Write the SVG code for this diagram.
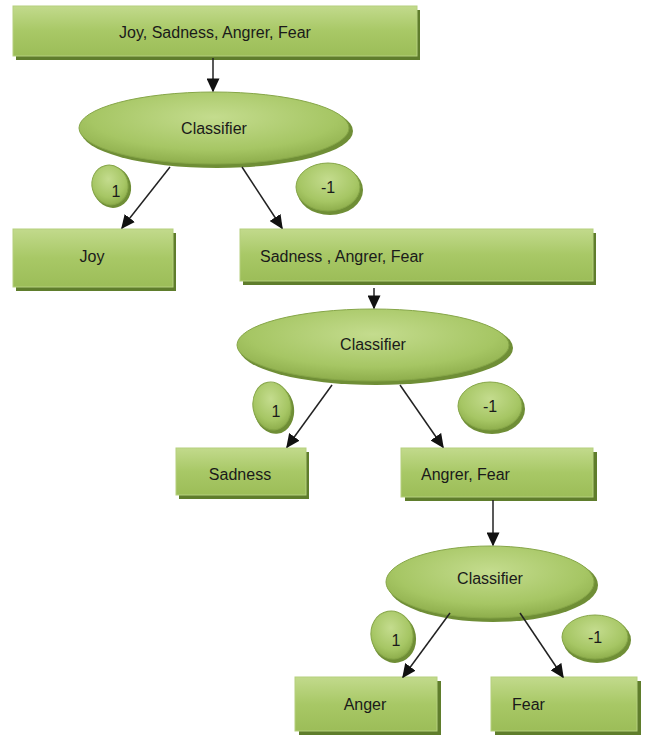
<svg xmlns="http://www.w3.org/2000/svg" width="645" height="736" viewBox="0 0 645 736">
<defs>
<linearGradient id="gBox" x1="0" y1="0" x2="0" y2="1">
<stop offset="0" stop-color="#c2da8c"/>
<stop offset="0.5" stop-color="#a8c866"/>
<stop offset="1" stop-color="#9cbd58"/>
</linearGradient>
<radialGradient id="gEl" cx="0.5" cy="0.35" r="0.65">
<stop offset="0" stop-color="#c4dc8e"/>
<stop offset="0.7" stop-color="#a6c664"/>
<stop offset="1" stop-color="#8eae4c"/>
</radialGradient>
<marker id="ah" viewBox="0 0 10 10" refX="9" refY="5" markerWidth="14" markerHeight="13" orient="auto" markerUnits="userSpaceOnUse" preserveAspectRatio="none">
<path d="M0,0 L10,5 L0,10 z" fill="#111"/>
</marker>
</defs>
<style>
.box{fill:url(#gBox);stroke:#b5d07e;stroke-width:1}
.sh{fill:#5f7d2c}
.el{fill:url(#gEl);stroke:#86a648;stroke-width:1}
.els{fill:#6f8e36}
.t{font-family:"Liberation Sans",Arial,sans-serif;font-size:16px;fill:#1a1a1a}
.c{text-anchor:middle}
.conn line{stroke:#222;stroke-width:1.5;marker-end:url(#ah)}
</style>
<rect width="645" height="736" fill="#ffffff"/>

<g id="n_root">
<rect class="sh" x="16" y="10" width="404" height="50"/>
<rect class="box" x="13" y="6" width="404" height="50"/>
<text class="t c" x="215" y="38">Joy, Sadness, Angrer, Fear</text>
</g>

<g id="n_cls1">
<ellipse class="els" cx="217" cy="131" rx="136" ry="37"/>
<ellipse class="el" cx="214" cy="128" rx="135" ry="36"/>
<text class="t c" x="214" y="134">Classifier</text>
</g>
<g id="n_l1a">
<ellipse class="els" cx="112" cy="187" rx="19" ry="21" transform="rotate(-15 112 187)"/>
<ellipse class="el" cx="110" cy="185" rx="18" ry="20" transform="rotate(-15 110 185)"/>
<text class="t c" x="116" y="197">1</text>
</g>
<g id="n_l1b">
<ellipse class="els" cx="330" cy="190" rx="33" ry="25"/>
<ellipse class="el" cx="328" cy="187" rx="32" ry="24"/>
<text class="t c" x="328" y="193">-1</text>
</g>

<g id="n_joy">
<rect class="sh" x="16" y="233" width="160" height="58"/>
<rect class="box" x="13" y="229" width="160" height="58"/>
<text class="t c" x="92" y="262">Joy</text>
</g>

<g id="n_sad3">
<rect class="sh" x="243" y="233" width="353" height="52"/>
<rect class="box" x="240" y="229" width="353" height="52"/>
<text class="t" x="260" y="262">Sadness , Angrer, Fear</text>
</g>

<g id="n_cls2">
<ellipse class="els" cx="376" cy="348" rx="137" ry="37"/>
<ellipse class="el" cx="373" cy="345" rx="136" ry="36"/>
<text class="t c" x="373" y="350">Classifier</text>
</g>
<g id="n_l2a">
<ellipse class="els" cx="274" cy="409" rx="20" ry="25" transform="rotate(-10 274 409)"/>
<ellipse class="el" cx="272" cy="406" rx="19" ry="24" transform="rotate(-10 272 406)"/>
<text class="t c" x="276" y="417">1</text>
</g>
<g id="n_l2b">
<ellipse class="els" cx="492" cy="409" rx="33" ry="25"/>
<ellipse class="el" cx="490" cy="406" rx="32" ry="24"/>
<text class="t c" x="490" y="412">-1</text>
</g>

<g id="n_sad">
<rect class="sh" x="179" y="452" width="130" height="47"/>
<rect class="box" x="176" y="448" width="130" height="47"/>
<text class="t c" x="240" y="480">Sadness</text>
</g>

<g id="n_af">
<rect class="sh" x="405" y="452" width="192" height="49"/>
<rect class="box" x="401" y="448" width="192" height="49"/>
<text class="t" x="421" y="480">Angrer, Fear</text>
</g>

<g id="n_cls3">
<ellipse class="els" cx="493" cy="585" rx="105" ry="37"/>
<ellipse class="el" cx="490" cy="582" rx="104" ry="36"/>
<text class="t c" x="490" y="584">Classifier</text>
</g>
<g id="n_l3a">
<ellipse class="els" cx="394" cy="638" rx="22" ry="25" transform="rotate(-10 394 638)"/>
<ellipse class="el" cx="392" cy="635" rx="21" ry="24" transform="rotate(-10 392 635)"/>
<text class="t c" x="396" y="646">1</text>
</g>
<g id="n_l3b">
<ellipse class="els" cx="597" cy="640" rx="34" ry="23"/>
<ellipse class="el" cx="595" cy="637" rx="33" ry="22"/>
<text class="t c" x="595" y="643">-1</text>
</g>

<g id="n_anger">
<rect class="sh" x="299" y="681" width="142" height="54"/>
<rect class="box" x="295" y="677" width="142" height="54"/>
<text class="t c" x="365" y="710">Anger</text>
</g>

<g id="n_fear">
<rect class="sh" x="495" y="681" width="146" height="54"/>
<rect class="box" x="491" y="677" width="146" height="54"/>
<text class="t" x="512" y="710">Fear</text>
</g>

<g id="connectors" class="conn">
<line x1="213" y1="58" x2="213" y2="91"/>
<line x1="170" y1="167" x2="122" y2="228"/>
<line x1="242" y1="167" x2="282" y2="228"/>
<line x1="374" y1="288" x2="374" y2="308"/>
<line x1="332" y1="385" x2="287" y2="447"/>
<line x1="400" y1="385" x2="443" y2="447"/>
<line x1="493" y1="500" x2="493" y2="545"/>
<line x1="450" y1="613" x2="403" y2="677"/>
<line x1="520" y1="613" x2="563" y2="677"/>
</g>
</svg>
